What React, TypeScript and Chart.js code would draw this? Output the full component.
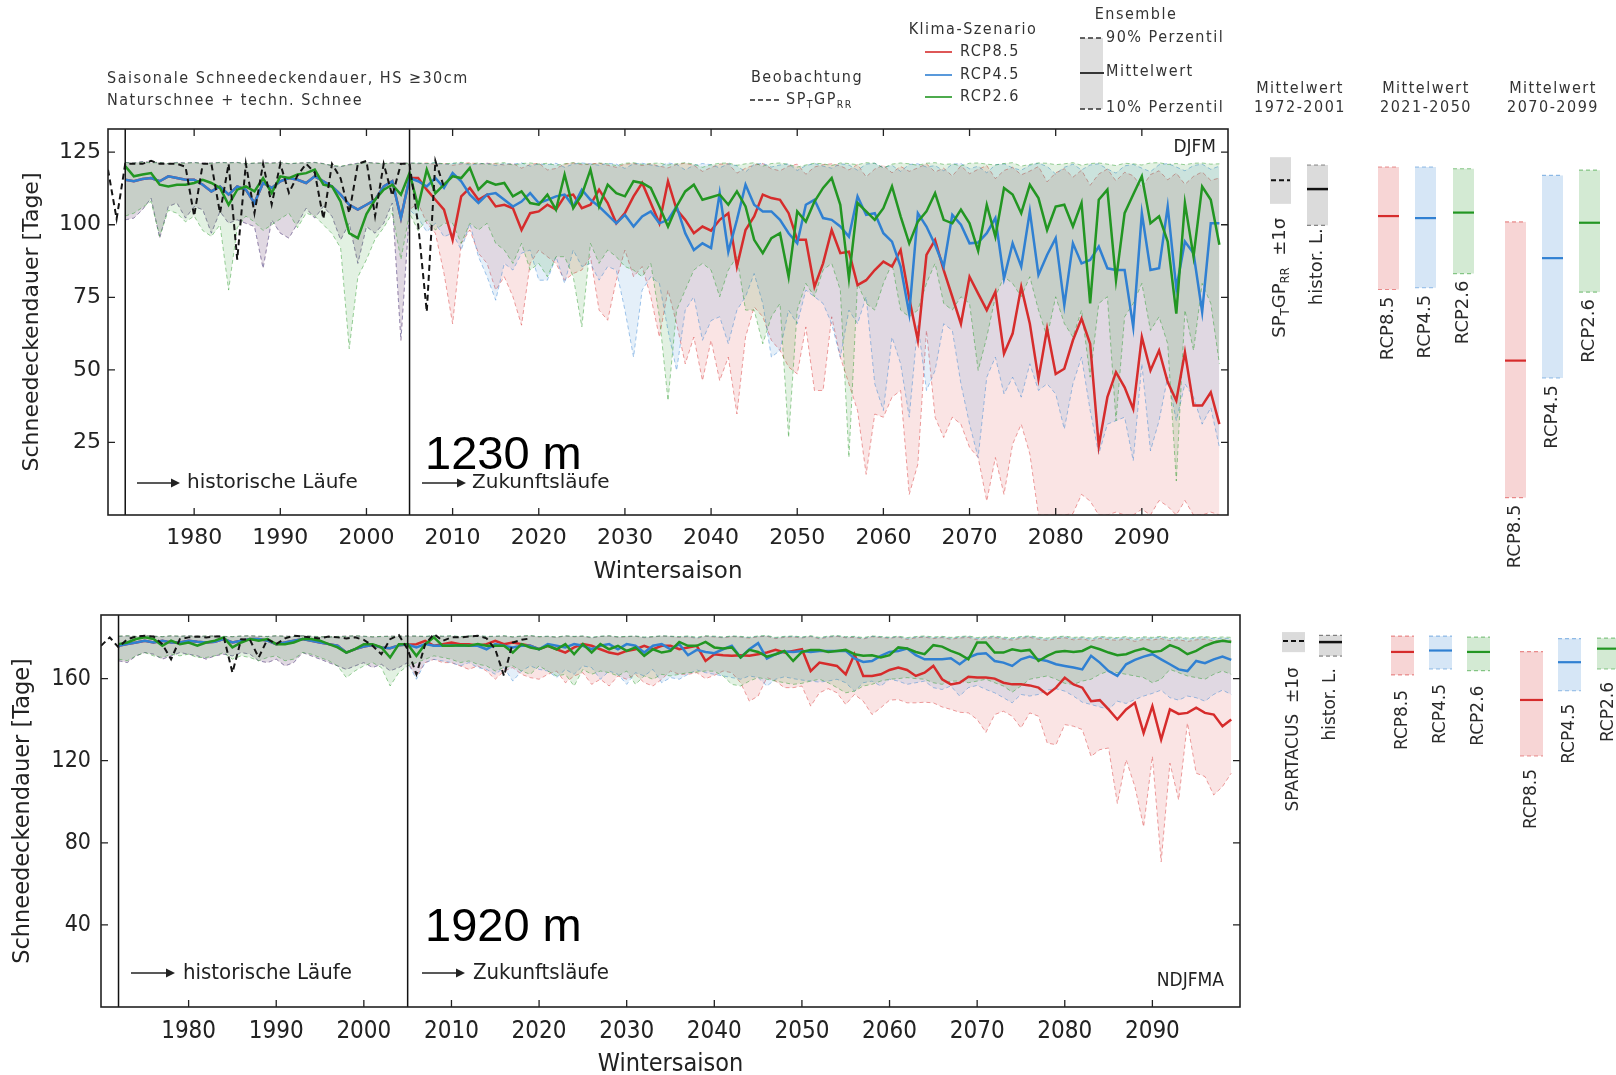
import React, { useEffect, useRef } from "react";
import { Chart, registerables } from "chart.js";

Chart.register(...registerables);

const PAGE_W = 1616;
const SANS = '"DejaVu Sans", "Liberation Sans", sans-serif';
const COND = '"DejaVu Sans Condensed", "Liberation Sans Narrow", "DejaVu Sans", sans-serif';
const ARIAL = '"Liberation Sans", Arial, sans-serif';

const OBS_START = 1970;
const HIST_START = 1972; // historical runs 1972-2005
const FUT_START = 2006; // scenario runs 2006-2099
const X_MIN = 1970;
const X_MAX = 2100;
const SPLIT_YEARS = [1972, 2005];
const SCENARIOS = ["RCP8.5", "RCP4.5", "RCP2.6"];
const PERIODS = ["1972-2001", "2021-2050", "2070-2099"];

// ================= 1230 m, DJFM =================
const TOP_OBS = [119, 102, 121, 121, 121, 122, 121, 121, 121, 120, 103, 121, 121, 104, 121, 88, 121, 104, 121, 107, 121, 111, 117, 121, 118, 102, 121, 116, 104, 121, 122, 103, 121, 110, 121, 121, 100, 70, 122, 113];

// historical runs used by RCP8.5 / RCP4.5
const TOP_HIST_A_P10 = [101.7, 102.3, 105.2, 109.2, 95.4, 106.3, 107.5, 102.3, 106.3, 105.2, 97.1, 104.6, 100.5, 101.7, 100.5, 99.4, 85, 101.7, 97.1, 95.4, 100.5, 105.7, 102.3, 106.3, 102.9, 94.8, 100.5, 86.7, 99.4, 97.1, 100.5, 107.5, 60.2, 105.2];
const TOP_HIST_A_MEAN = [115.5, 115, 115.8, 116.1, 115, 116.7, 116.1, 115.5, 115.5, 113.8, 111.5, 113.2, 110.4, 113.2, 112.1, 107.5, 114.4, 112.7, 115, 116.1, 115.5, 114.4, 116.7, 115, 113.2, 110.4, 106.9, 105.2, 106.9, 108.6, 113.2, 115, 102.3, 116.1];
const TOP_HIST_A_P90 = [121.5, 121.3, 121.8, 121.5, 121.5, 121, 121.5, 121.3, 121.5, 121.2, 121.3, 121.5, 121.4, 121.5, 121, 121.2, 121.4, 121.3, 121.5, 121, 121.2, 121.4, 121.5, 121.1, 120.3, 120, 120.8, 121.2, 121.5, 121.3, 121, 121.4, 121.2, 121.3];
// historical runs used by RCP2.6
const TOP_HIST_B_P10 = [103, 104, 106, 108, 96, 105, 104, 101, 103, 98, 96, 100, 77.5, 99, 103, 101, 98, 100, 102, 104, 99, 104, 103, 100, 97, 92, 57.3, 82, 88, 95, 99, 104, 88, 104];
const TOP_HIST_B_MEAN = [120.2, 116.7, 117.3, 117.8, 113.8, 113.2, 113.8, 113.8, 114.4, 115.5, 114.4, 112.7, 106.9, 112.1, 113.2, 111.5, 116.1, 110.9, 116.7, 116.1, 117.3, 117.8, 119, 113.8, 113.2, 108, 97.1, 95.4, 103.7, 108.6, 112.1, 113.8, 110.4, 117.8];
const TOP_HIST_B_P90 = [121.4, 121.2, 121.6, 121.3, 121.4, 121.1, 121.3, 121.2, 121.4, 121.1, 121.2, 121.4, 121.3, 121.4, 121.1, 121.3, 121.2, 121.2, 121.4, 121.1, 121.3, 121.3, 121.4, 121, 120.5, 120.2, 120.6, 121, 121.4, 121.2, 121.1, 121.3, 121.1, 121.2];

const TOP_RCP85_P10 = [107.5, 100.5, 97.1, 83.2, 65.9, 93.6, 98.2, 90.2, 86.7, 77.5, 82.1, 75.2, 65.4, 86.7, 91.3, 89, 86.7, 80.9, 83.2, 84.4, 89, 70.6, 67.1, 80.9, 91.3, 82.1, 85.6, 75.2, 61.3, 77.5, 65.9, 52.1, 61.3, 46.3, 60.2, 46.3, 54.4, 34.8, 61.3, 71.7, 68.3, 60.2, 56.7, 51, 48.6, 64.8, 42.9, 42.9, 68.3, 54.4, 45.2, 36, 14, 34.8, 33.7, 40.6, 42.9, 7.1, 17.5, 63.6, 33.7, 26.7, 33.7, 31.3, 23.3, 19.8, 4.8, 19.8, 7.1, 24.4, 31.3, 21, 0, 0, 0, 0, 0.5, 7.1, 4.8, 0, 0, 1, 0, 0, 2, 0, 5, 3, 0, 5, 0, 0, 1, 0];
const TOP_RCP85_MEAN = [116.1, 112.1, 108.6, 105.2, 94.8, 109.8, 112.7, 108.6, 110.4, 106.3, 106.9, 105.7, 98.2, 104, 104.6, 106.9, 105.2, 109.8, 110.4, 105.7, 106.9, 112.1, 107.5, 100.5, 104, 109.8, 114.4, 107.5, 100.5, 115, 105.2, 101.7, 97.1, 99.4, 98, 101.7, 104, 85.6, 98.2, 102.9, 110.4, 109.2, 108.6, 104, 94.8, 94.8, 78.6, 86.7, 98.2, 90.2, 90.7, 79.2, 80.9, 84.4, 87.3, 85.6, 91.3, 74.6, 60.2, 89.6, 94.8, 84.4, 75.2, 65.9, 82.1, 76.3, 70.6, 76.9, 55.6, 62.5, 78.6, 65.9, 46.9, 64.2, 48.6, 50.4, 60.2, 67.7, 59, 23.8, 40.6, 49.2, 44, 36.5, 61.3, 49.8, 56.7, 45.8, 39.4, 56.1, 37.7, 37.7, 42.3, 31.3];
const TOP_RCP85_P90 = [121, 121.3, 120.8, 121.2, 120.5, 121, 121.4, 120.9, 121.2, 121, 120.6, 121.1, 119.5, 120.8, 121.2, 118.9, 119.4, 120.9, 121.3, 120.7, 121, 121.2, 120.5, 119.8, 120.9, 121.1, 120.4, 121, 120.2, 119.6, 120.8, 121.2, 120.5, 118.4, 119.7, 120.9, 121, 117.8, 119.5, 120.6, 121.1, 119.3, 118.6, 120.2, 120.9, 117.4, 119.9, 120.7, 121, 120.3, 118.9, 120.8, 116.5, 119.2, 120.5, 117.9, 120.1, 118.4, 119.6, 121, 118.2, 119.5, 116.8, 120.3, 117.6, 119.1, 120.4, 115.9, 118.7, 119.8, 117.2, 118.5, 120.1, 114.8, 117.9, 119.3, 116.4, 118.8, 113.6, 117.5, 119.2, 115.1, 118.1, 116.9, 112.8, 117.3, 118.6, 115.5, 117.8, 113.9, 116.7, 118.2, 115.3, 116.1];

const TOP_RCP45_P10 = [102.3, 97.6, 100.5, 95.9, 97.1, 91.3, 100.5, 89, 82.1, 74, 86.7, 84.4, 90.2, 91.3, 80.9, 80.9, 89, 79.8, 91.3, 85.6, 86.7, 80.9, 85.6, 84.4, 70.6, 54.4, 77.5, 82.1, 79.8, 63.6, 49.8, 70.6, 75.2, 60.2, 67, 68.3, 59, 70.6, 75.2, 83.2, 72.9, 54.4, 56.7, 70.6, 65.9, 77.5, 75.2, 72.9, 65.9, 54.4, 70.6, 65.9, 75.2, 45.2, 36, 61.3, 52.1, 33.7, 65.9, 42.9, 49.8, 65.9, 63.6, 45.2, 31.3, 19.8, 47.5, 54.4, 41.7, 47.5, 40.6, 52.1, 42.9, 45.2, 41.7, 29.6, 45.2, 54.4, 36, 21, 31.3, 32.5, 33.7, 18.7, 52.1, 22.1, 32.5, 47.5, 32.5, 45.2, 40.6, 31.3, 37, 23.3];
const TOP_RCP45_MEAN = [115, 113.2, 116.1, 112.7, 117.8, 115, 110.4, 107.5, 110.4, 110.9, 108.6, 106.3, 108, 110.9, 107.5, 108.6, 109.8, 110.4, 106.3, 112.1, 108.6, 106.3, 103.4, 100.5, 103.4, 99.4, 102.9, 104.6, 100.5, 101.7, 106.3, 97.1, 91.3, 93.6, 92, 110.9, 90.7, 101.7, 113.8, 106.9, 104.6, 104.6, 101.7, 97.1, 93.6, 106.9, 108.6, 102.3, 101.7, 99.4, 95.9, 109.8, 103.4, 104, 97.1, 94.2, 85.6, 69.4, 104, 99.4, 93.1, 85.6, 103.4, 100, 93.6, 93.9, 97.1, 102.3, 81.5, 93.6, 85.6, 104.6, 82.7, 89.6, 95.4, 72.3, 93.6, 86.7, 87.9, 92.5, 85, 84.4, 84.4, 64.8, 104, 84.4, 85, 106.3, 78.1, 94.2, 90.2, 70, 100.5, 100.5];
const TOP_RCP45_P90 = [121.2, 121, 121.4, 120.8, 121.1, 121.3, 120.6, 121, 121.2, 120.4, 121.1, 120.9, 121.3, 120.2, 121, 120.7, 121.2, 119.8, 120.9, 121.3, 121, 120.5, 121.2, 120.9, 119.4, 121, 121.2, 120.6, 120.1, 121.3, 120.8, 118.9, 120.5, 121.1, 120.7, 119.6, 121, 120.3, 118.2, 120.8, 121.2, 119.9, 120.6, 121, 118.7, 120.4, 121.1, 120.2, 119.5, 121, 120.6, 118.8, 120.9, 121.2, 119.7, 120.5, 118.4, 120.8, 121, 119.9, 120.4, 118.6, 120.9, 121.1, 119.3, 120.2, 117.9, 120.7, 121, 119.6, 118.8, 120.5, 121.2, 120.1, 117.5, 119.8, 120.9, 118.9, 120.6, 121, 119.2, 117.8, 120.3, 120.8, 119.5, 118.3, 120.7, 121.1, 119.9, 118.6, 120.4, 120.9, 119.1, 120.2];

const TOP_RCP26_P10 = [98, 101.7, 98.2, 100.5, 100.5, 93.6, 100.5, 98.2, 100.5, 93.6, 91.3, 86.7, 93.6, 84.4, 86.7, 82.1, 89, 89, 82.1, 64.8, 93.6, 86.7, 91.3, 89, 85.6, 84.4, 82.1, 86.7, 68.3, 39.4, 70.6, 77.5, 84.4, 86.7, 84.4, 75.2, 84.4, 89, 70.6, 70.6, 59, 68.3, 72.9, 26.7, 70.6, 79.8, 75.2, 84.4, 86.7, 77.5, 19.8, 79.8, 72.9, 70.6, 79.8, 86.7, 70.6, 68.3, 70.6, 79.8, 86.7, 72.9, 70.6, 75.2, 72.9, 49.8, 61.3, 75.2, 82.1, 79.8, 75.2, 82.1, 70.6, 61.3, 75.2, 66, 61.3, 70.6, 47.5, 72.9, 75.2, 32.5, 68.3, 72.9, 79.8, 63.6, 68.3, 59, 11.7, 70.6, 56.7, 79.8, 72.9, 52.1];
const TOP_RCP26_MEAN = [106.3, 119, 110.9, 113.8, 116.7, 116.1, 119.6, 112.1, 115, 113.8, 114.4, 109.8, 111.5, 107.5, 106.9, 110.4, 105.2, 117.3, 105.7, 110.4, 119, 106.3, 113.8, 110.9, 109.8, 115, 114.4, 112.7, 106.3, 99.4, 106.3, 111.5, 113.8, 108.6, 109.5, 110.4, 106.9, 111.5, 106.3, 94.8, 90.2, 95.4, 97.1, 82.1, 104.6, 101.1, 108, 112.7, 116.1, 106.9, 81.5, 107.5, 104.6, 101.7, 105.7, 113.2, 102.9, 93.6, 101.1, 104.6, 110.9, 101.7, 100.5, 105.2, 100.5, 91, 106.9, 95.9, 112.7, 110.4, 104, 113.8, 109.2, 98.2, 106.3, 106.9, 99.4, 107.5, 72.9, 108.6, 112.1, 80.9, 104, 110.4, 116.7, 100.5, 102.9, 94.2, 69.4, 107.5, 89, 113.2, 108.6, 93.1];
const TOP_RCP26_P90 = [121.3, 121.1, 121.4, 121, 121.2, 121.5, 121, 121.3, 120.8, 121.2, 121.4, 120.6, 121.1, 121.3, 120.9, 121.2, 120.5, 121, 121.4, 121.1, 120.7, 121.3, 121, 120.4, 121.2, 121.4, 120.8, 121.1, 121.3, 120.6, 121, 121.4, 120.9, 119.8, 120.7, 121.2, 121.3, 120.5, 121, 121.4, 120.2, 121.1, 121.3, 120.8, 119.9, 120.6, 121.2, 121, 120.4, 121.3, 121.1, 120.7, 121.4, 121.2, 119.6, 120.9, 121.3, 121, 120.5, 121.2, 121.4, 120.8, 121, 120.3, 121.2, 121.3, 120.9, 120.6, 121.1, 121.4, 120.2, 120.8, 121.3, 121.2, 120.7, 121, 121.4, 120.5, 121.1, 121.3, 120.9, 120.4, 121.2, 121, 120.6, 121.3, 121.4, 120.8, 121.1, 120.7, 121.2, 121.3, 120.9, 121];

// side panel: [low, mean, high]
const TOP_SIDE_OBS = [107.2, 115.3, 123.3]; // SP_T GP_RR ±1σ
const TOP_SIDE_HIST = [99.8, 112.3, 120.6]; // historical runs (10%, mean, 90%)
const TOP_SIDE_2021_2050 = [[77.7, 103.0, 119.9], [78.3, 102.3, 119.9], [83.2, 104.2, 119.3]];
const TOP_SIDE_2070_2099 = [[6.0, 53.2, 101.0], [47.2, 88.5, 117.0], [76.8, 100.7, 118.8]];

// ================= 1920 m, NDJFMA =================
const BOT_OBS = [176, 180.1, 175.2, 179.2, 180.5, 180.9, 180.5, 176.8, 169.4, 179.2, 180.1, 180.5, 180.1, 180.5, 180.5, 162.9, 179.2, 178.9, 170.3, 179.2, 176.8, 179.6, 180.9, 180.5, 180.1, 179.6, 180.5, 180.1, 179.6, 180.1, 178.9, 176, 171.9, 179.2, 181.2, 174.3, 162.1, 176.8, 181.7, 178.4, 180.1, 180.1, 180.5, 180.9, 179.6, 174.3, 161.3, 177.6, 178.9, 179.6];

const BOT_HIST_A_P10 = [168.7, 167.8, 171.1, 172.7, 171.9, 169.5, 171.1, 172.7, 171.9, 171.1, 169.5, 171.1, 171.9, 171.1, 172.7, 171.9, 168.7, 167.8, 169.5, 166.2, 167.8, 172.7, 171.1, 169.5, 167.8, 166.2, 164.5, 166.2, 167.8, 165.4, 167.0, 163.8, 165.4, 167.8];
const BOT_HIST_A_MEAN = [176.0, 176.8, 177.6, 178.5, 177.6, 178.5, 177.6, 177.6, 178.5, 178.0, 177.6, 178.0, 179.3, 177.6, 178.5, 179.3, 179.3, 178.5, 176.8, 177.6, 178.5, 179.3, 178.5, 177.6, 176.8, 176.0, 172.7, 174.4, 175.6, 176.4, 175.2, 174.8, 176.2, 176.6];
const BOT_HIST_A_P90 = [180.6, 180.8, 180.5, 180.9, 180.7, 180.4, 180.8, 180.6, 180.9, 180.5, 180.7, 180.8, 180.6, 180.4, 180.7, 180.9, 180.6, 180.5, 180.8, 180.7, 180.5, 180.9, 180.6, 180.4, 180.2, 180.5, 180.7, 180.8, 180.6, 180.3, 180.5, 180.7, 180.6, 180.8];
const BOT_HIST_B_P10 = [169.5, 168.7, 171.1, 172.7, 171.1, 170.3, 171.9, 171.1, 171.9, 170.3, 170.3, 171.1, 172.7, 169.5, 171.1, 170.3, 168.7, 170.3, 171.1, 168.7, 169.5, 172.7, 171.9, 170.3, 168.7, 166.2, 160.5, 163.8, 166.2, 167.8, 165.4, 156.4, 163.0, 166.2];
const BOT_HIST_B_MEAN = [176.8, 177.6, 179.3, 180.1, 179.3, 176.0, 178.5, 176.8, 177.6, 176.0, 177.6, 178.5, 180.1, 175.2, 177.6, 179.3, 178.5, 179.3, 176.8, 176.8, 177.6, 179.3, 179.3, 178.5, 176.8, 175.2, 172.7, 174.4, 176.8, 176.8, 175.2, 170.3, 176.8, 176.8];
const BOT_HIST_B_P90 = [180.7, 180.9, 180.6, 180.8, 180.6, 180.5, 180.9, 180.7, 180.8, 180.6, 180.8, 180.7, 180.5, 180.5, 180.8, 180.8, 180.7, 180.6, 180.9, 180.6, 180.6, 180.8, 180.7, 180.5, 180.3, 180.6, 180.6, 180.9, 180.7, 180.4, 180.6, 180.6, 180.7, 180.7];

const BOT_RCP85_P10 = [161.3, 167.8, 169.4, 167.8, 167.8, 166.2, 164.5, 166.2, 163.7, 159.7, 163.7, 165.4, 162.1, 160.5, 159.7, 162.1, 163.7, 158.0, 161.3, 162.9, 157.2, 159.7, 156.4, 161.3, 159.7, 162.1, 158.0, 156.4, 159.7, 163.7, 162.1, 162.1, 162.9, 160.0, 161.6, 163.7, 162.9, 158.0, 149.0, 151.5, 160.5, 158.8, 155.6, 155.6, 156.4, 146.6, 153.1, 155.1, 153.1, 147.4, 152.3, 149.0, 142.5, 145.8, 149.5, 149.8, 148.2, 148.2, 148.5, 148.2, 146.2, 145.0, 143.6, 143.3, 140.1, 133.8, 142.5, 144.1, 141.7, 136.0, 143.3, 141.7, 128.6, 127.8, 137.6, 136.8, 135.2, 122.1, 125.4, 126.2, 99.2, 120.5, 107.4, 87.8, 122.1, 70.7, 118.8, 100.9, 138.4, 113.9, 112.3, 103.3, 107.4, 113.9];
const BOT_RCP85_MEAN = [176.8, 178.4, 176.0, 176.8, 177.6, 176.8, 176.8, 176.0, 176.8, 178.4, 176.8, 177.6, 176.8, 176.0, 174.3, 176.0, 174.3, 172.7, 175.2, 176.8, 176.0, 174.3, 172.7, 171.9, 173.5, 174.3, 176.0, 174.3, 176.0, 176.0, 174.3, 175.2, 176.0, 168.6, 171.9, 171.4, 171.1, 171.4, 171.1, 171.9, 172.7, 174.0, 172.7, 173.5, 174.3, 163.7, 167.8, 167.0, 166.2, 162.1, 171.9, 161.3, 161.3, 162.1, 164.2, 165.4, 164.2, 161.3, 162.9, 166.2, 159.7, 157.2, 158.0, 160.9, 160.5, 160.5, 160.0, 158.0, 157.2, 157.2, 156.7, 155.6, 152.3, 155.6, 160.5, 157.2, 155.6, 149.0, 149.5, 145.0, 140.1, 145.0, 148.2, 133.5, 146.6, 130.3, 145.0, 142.8, 143.3, 145.8, 143.3, 142.5, 136.8, 140.1];
const BOT_RCP85_P90 = [180.6, 180.4, 180.8, 180.5, 180.7, 180.3, 180.6, 180.8, 180.4, 180.5, 180.7, 180.2, 180.6, 180.8, 180.3, 180.5, 180.1, 180.7, 180.4, 180.6, 179.8, 180.5, 180.7, 180.2, 180.4, 180.6, 179.9, 180.3, 180.7, 180.5, 180.1, 180.4, 179.6, 180.6, 180.3, 179.9, 180.5, 180.2, 179.7, 180.4, 180.6, 179.5, 180.1, 180.3, 179.8, 180.5, 179.4, 180.2, 180.6, 179.9, 180.1, 179.3, 180.4, 180, 179.6, 180.3, 179.1, 179.9, 180.2, 179.5, 180, 179.2, 179.8, 180.1, 178.9, 179.6, 180, 179.3, 178.8, 179.7, 180.1, 179.2, 178.6, 179.5, 179.9, 178.9, 179.4, 178.4, 179.6, 179, 178.7, 179.3, 178.2, 179.1, 178.8, 179.5, 178.5, 179, 178.1, 178.9, 179.3, 178.4, 178.9, 178.6];

const BOT_RCP45_P10 = [159.7, 167.8, 169.4, 168.6, 167.8, 166.2, 167.8, 165.4, 164.5, 162.1, 165.4, 158.8, 163.7, 166.2, 164.5, 163.7, 160.5, 164.5, 162.1, 166.2, 165.4, 159.7, 163.7, 162.1, 157.2, 162.9, 161.3, 164.5, 158.0, 160.5, 159.7, 162.1, 164.2, 162.9, 162.1, 161.3, 160.5, 159.7, 161.3, 160.5, 156.4, 159.7, 160.9, 160.0, 159.3, 158.8, 158.3, 158.8, 159.7, 158.0, 153.9, 158.0, 158.8, 156.4, 159.7, 158.8, 157.2, 158.0, 158.8, 155.6, 154.7, 156.4, 151.5, 155.6, 156.7, 154.7, 153.1, 150.7, 148.2, 152.3, 151.5, 152.3, 154.4, 155.1, 153.9, 151.5, 148.5, 147.4, 146.2, 145.0, 149.0, 147.9, 149.8, 151.5, 152.8, 154.4, 150.7, 149.5, 151.5, 150.7, 149.0, 152.3, 154.4, 152.3];
const BOT_RCP45_MEAN = [175.2, 176.8, 176.0, 176.0, 176.3, 176.0, 176.0, 176.0, 174.3, 176.8, 176.0, 175.2, 176.0, 176.0, 174.3, 176.8, 176.0, 175.2, 176.8, 176.0, 174.3, 176.0, 176.8, 174.3, 176.8, 176.0, 172.7, 176.0, 176.8, 174.3, 176.8, 171.4, 174.0, 173.0, 172.4, 174.3, 176.0, 170.3, 174.3, 177.3, 169.8, 171.9, 173.2, 173.0, 173.4, 173.0, 173.4, 173.5, 173.5, 173.5, 169.8, 168.1, 168.6, 171.1, 173.0, 173.5, 174.7, 171.4, 169.4, 169.4, 169.4, 169.9, 167.0, 170.3, 172.0, 172.4, 168.6, 167.8, 166.2, 169.4, 170.7, 169.4, 168.6, 167.0, 166.2, 165.4, 164.5, 171.1, 167.8, 163.7, 161.3, 167.0, 169.1, 170.7, 171.9, 169.4, 167.0, 164.5, 163.7, 168.6, 167.5, 169.4, 170.7, 169.1];
const BOT_RCP45_P90 = [180.7, 180.5, 180.9, 180.6, 180.8, 180.4, 180.7, 180.9, 180.5, 180.6, 180.8, 180.3, 180.7, 180.9, 180.4, 180.6, 180.2, 180.8, 180.5, 180.7, 180, 180.6, 180.8, 180.3, 180.5, 180.7, 180.1, 180.4, 180.8, 180.6, 180.3, 180.6, 179.9, 180.7, 180.5, 180.1, 180.7, 180.4, 180, 180.6, 180.8, 179.8, 180.4, 180.6, 180.1, 180.7, 179.7, 180.5, 180.8, 180.2, 180.4, 179.6, 180.6, 180.3, 179.9, 180.5, 179.6, 180.2, 180.5, 179.9, 180.3, 179.7, 180.2, 180.5, 179.5, 180.1, 180.4, 179.8, 179.4, 180.2, 180.5, 179.8, 179.3, 180, 180.4, 179.6, 180, 179.2, 180.2, 179.7, 179.5, 180, 179.1, 179.9, 179.6, 180.2, 179.4, 179.8, 179.2, 179.7, 180, 179.4, 179.7, 179.5];

const BOT_RCP26_P10 = [167.8, 169.4, 171.1, 170.3, 169.4, 167.8, 168.6, 167.0, 166.2, 163.7, 165.4, 166.2, 163.7, 162.1, 166.2, 163.7, 161.3, 162.1, 156.4, 164.5, 162.1, 163.7, 162.9, 161.3, 163.7, 157.2, 161.3, 159.7, 162.1, 161.3, 162.1, 162.9, 163.2, 163.7, 163.6, 161.3, 157.2, 156.4, 158.8, 160.5, 159.7, 158.8, 158.0, 157.2, 157.7, 158.8, 159.7, 158.0, 155.6, 153.1, 153.9, 156.4, 157.2, 158.8, 159.7, 160.0, 160.5, 160.0, 159.7, 158.0, 157.2, 158.8, 158.8, 158.0, 158.8, 159.7, 158.0, 156.4, 153.4, 156.4, 159.7, 160.5, 161.3, 159.7, 157.7, 157.2, 158.8, 159.7, 162.1, 163.7, 162.9, 162.1, 161.3, 160.5, 158.0, 159.7, 164.5, 162.9, 161.3, 160.5, 159.7, 162.1, 163.7, 162.1];
const BOT_RCP26_MEAN = [171.1, 176.8, 180.1, 176.0, 176.0, 176.3, 176.0, 176.8, 176.0, 176.0, 176.0, 172.7, 176.8, 175.2, 174.3, 176.0, 174.3, 176.8, 171.9, 176.8, 172.7, 176.8, 174.3, 176.0, 173.5, 175.2, 171.1, 174.3, 172.7, 173.5, 177.9, 176.0, 176.0, 177.9, 175.2, 174.7, 175.2, 170.3, 174.0, 173.0, 170.7, 171.9, 173.5, 168.6, 173.0, 174.0, 174.0, 173.0, 173.5, 174.0, 171.9, 171.1, 171.4, 170.3, 171.4, 175.2, 174.7, 173.0, 171.9, 176.3, 175.6, 173.5, 171.9, 169.4, 177.6, 177.6, 172.7, 172.7, 174.3, 173.5, 174.0, 168.6, 171.1, 173.0, 173.5, 173.0, 173.5, 175.6, 174.3, 172.7, 171.4, 171.9, 173.5, 174.7, 173.0, 173.5, 176.3, 174.7, 171.9, 173.5, 176.0, 177.6, 178.4, 177.9];
const BOT_RCP26_P90 = [180.8, 180.6, 181, 180.7, 180.9, 180.5, 180.8, 181, 180.6, 180.7, 180.9, 180.4, 180.8, 181, 180.5, 180.7, 180.3, 180.9, 180.6, 180.8, 180.2, 180.7, 180.9, 180.4, 180.6, 180.8, 180.3, 180.5, 180.9, 180.7, 180.5, 180.8, 180.2, 180.9, 180.7, 180.3, 180.8, 180.6, 180.2, 180.8, 181, 180.1, 180.6, 180.8, 180.3, 180.9, 180.1, 180.7, 181, 180.4, 180.6, 180, 180.8, 180.5, 180.2, 180.7, 180, 180.5, 180.8, 180.3, 180.6, 180.1, 180.5, 180.8, 180, 180.4, 180.7, 180.2, 179.9, 180.5, 180.8, 180.2, 179.8, 180.4, 180.7, 180.1, 180.4, 179.8, 180.6, 180.2, 180, 180.5, 179.7, 180.4, 180.1, 180.6, 179.9, 180.3, 179.8, 180.2, 180.5, 180, 180.3, 180.1];

const BOT_SIDE_OBS = [172.9, 178.3, 182.7]; // SPARTACUS ±1σ
const BOT_SIDE_HIST = [171.0, 177.8, 181.1];
const BOT_SIDE_2021_2050 = [[161.8, 173.0, 180.7], [164.7, 173.7, 180.7], [163.9, 173.0, 180.2]];
const BOT_SIDE_2070_2099 = [[122.3, 149.6, 173.2], [154.1, 168.0, 179.5], [164.7, 174.6, 179.7]];

// ================= styling =================
const RED = [214, 44, 44];
const BLUE = [48, 128, 210];
const GREEN = [34, 150, 34];
const SC_COLORS = [RED, BLUE, GREEN];
const BAND_ALPHA = 0.13;
const rgba = (c: number[], a: number) => `rgba(${c[0]},${c[1]},${c[2]},${a})`;

const pts = (start: number, vals: number[]) => vals.map((v, i) => ({ x: start + i, y: v }));
const joined = (hist: number[], fut: number[]) => [...pts(HIST_START, hist), ...pts(FUT_START, fut)];

const TOP_PANEL = {
  canvasH: 590,
  obs: TOP_OBS,
  histA: { p10: TOP_HIST_A_P10, mean: TOP_HIST_A_MEAN, p90: TOP_HIST_A_P90 },
  histB: { p10: TOP_HIST_B_P10, mean: TOP_HIST_B_MEAN, p90: TOP_HIST_B_P90 },
  fut: [
    { p10: TOP_RCP85_P10, mean: TOP_RCP85_MEAN, p90: TOP_RCP85_P90 },
    { p10: TOP_RCP45_P10, mean: TOP_RCP45_MEAN, p90: TOP_RCP45_P90 },
    { p10: TOP_RCP26_P10, mean: TOP_RCP26_MEAN, p90: TOP_RCP26_P90 },
  ],
  yMax: 133,
  yStep: 25,
  padding: { left: 8, right: 388, top: 129, bottom: 4 },
  yWidth: 100,
  xHeight: 71,
  xTickFont: { family: SANS, size: 22 },
  yTickFont: { family: SANS, size: 22 },
  xTickPad: 2,
  yTickPad: -1,
  xTitleFont: { family: SANS, size: 23 },
  xTitlePad: { top: 0, bottom: 0 },
  yTitleFont: { family: SANS, size: 22 },
  yTitlePad: { top: 11, bottom: 0 },
  elev: "1230 m",
  elevY: 469,
  season: "DJFM",
  seasonX: 1216,
  seasonY: 148,
  seasonFont: `17px ${SANS}`,
  runY: 483,
  runFont: `20px ${SANS}`,
  runHist: [137, 180, 187],
  runFut: [422, 466, 472],
  side: {
    w: 21,
    font: 18,
    obs: { x: 1270, vals: TOP_SIDE_OBS, gap: 14, label: [{ t: "SP" }, { t: "T", sub: true }, { t: "GP" }, { t: "RR", sub: true }, { t: "  ±1σ" }] },
    hist: { x: 1307, vals: TOP_SIDE_HIST, gap: 3, label: [{ t: "histor. L." }] },
    groups: [
      { xs: [1378, 1415, 1453], vals: TOP_SIDE_2021_2050, gap: 7 },
      { xs: [1505, 1542, 1579], vals: TOP_SIDE_2070_2099, gap: 7 },
    ],
  },
  header: true,
};

const BOT_PANEL = {
  canvasH: 485,
  obs: BOT_OBS,
  histA: { p10: BOT_HIST_A_P10, mean: BOT_HIST_A_MEAN, p90: BOT_HIST_A_P90 },
  histB: { p10: BOT_HIST_B_P10, mean: BOT_HIST_B_MEAN, p90: BOT_HIST_B_P90 },
  fut: [
    { p10: BOT_RCP85_P10, mean: BOT_RCP85_MEAN, p90: BOT_RCP85_P90 },
    { p10: BOT_RCP45_P10, mean: BOT_RCP45_MEAN, p90: BOT_RCP45_P90 },
    { p10: BOT_RCP26_P10, mean: BOT_RCP26_MEAN, p90: BOT_RCP26_P90 },
  ],
  yMax: 191,
  yStep: 40,
  padding: { left: 6, right: 376, top: 25, bottom: 0 },
  yWidth: 95,
  xHeight: 68,
  xTickFont: { family: COND, size: 24 },
  yTickFont: { family: COND, size: 23 },
  xTickPad: 2,
  yTickPad: 2,
  xTitleFont: { family: COND, size: 25 },
  xTitlePad: { top: 0, bottom: -4 },
  yTitleFont: { family: SANS, size: 22.5 },
  yTitlePad: { top: 3.5, bottom: 0 },
  elev: "1920 m",
  elevY: 351,
  season: "NDJFMA",
  seasonX: 1224,
  seasonY: 391,
  seasonFont: `19px ${COND}`,
  runY: 383,
  runFont: `22px ${COND}`,
  runHist: [131, 175, 183],
  runFut: [422, 465, 473],
  side: {
    w: 23,
    font: 17,
    obs: { x: 1282, vals: BOT_SIDE_OBS, gap: 15, label: [{ t: "SPARTACUS  ±1σ" }] },
    hist: { x: 1319, vals: BOT_SIDE_HIST, gap: 12, label: [{ t: "histor. L." }] },
    groups: [
      { xs: [1391, 1429, 1467], vals: BOT_SIDE_2021_2050, gap: 15 },
      { xs: [1520, 1558, 1597], vals: BOT_SIDE_2070_2099, gap: 13 },
    ],
  },
  header: false,
};

// ================= drawing helpers =================
function setLS(ctx: any, v: string) {
  if ("letterSpacing" in ctx) ctx.letterSpacing = v;
}

function richWidth(ctx: any, parts: any[], size: number, family: string) {
  let w = 0;
  for (const p of parts) {
    ctx.font = `${p.sub ? size * 0.65 : size}px ${family}`;
    w += ctx.measureText(p.t).width;
  }
  return w;
}

function drawRich(ctx: any, parts: any[], x: number, y: number, size: number, family: string) {
  let cx = x;
  for (const p of parts) {
    ctx.font = `${p.sub ? size * 0.65 : size}px ${family}`;
    ctx.fillText(p.t, cx, p.sub ? y + size * 0.3 : y);
    cx += ctx.measureText(p.t).width;
  }
}

function rotatedLabel(ctx: any, parts: any[], cx: number, yTop: number, size: number) {
  ctx.save();
  ctx.translate(cx, yTop);
  ctx.rotate(-Math.PI / 2);
  ctx.textAlign = "left";
  ctx.textBaseline = "middle";
  ctx.fillStyle = "#2a2a2a";
  const w = richWidth(ctx, parts, size, SANS);
  drawRich(ctx, parts, -w, 0, size, SANS);
  ctx.restore();
}

function hLine(ctx: any, x1: number, x2: number, y: number, color: string, lw: number, dash: number[]) {
  ctx.save();
  ctx.strokeStyle = color;
  ctx.lineWidth = lw;
  ctx.setLineDash(dash);
  ctx.beginPath();
  ctx.moveTo(x1, y);
  ctx.lineTo(x2, y);
  ctx.stroke();
  ctx.restore();
}

function arrow(ctx: any, x1: number, x2: number, y: number) {
  ctx.save();
  ctx.strokeStyle = "#222";
  ctx.fillStyle = "#222";
  ctx.lineWidth = 1.5;
  ctx.beginPath();
  ctx.moveTo(x1, y);
  ctx.lineTo(x2 - 6, y);
  ctx.stroke();
  ctx.beginPath();
  ctx.moveTo(x2, y);
  ctx.lineTo(x2 - 9, y - 4.5);
  ctx.lineTo(x2 - 9, y + 4.5);
  ctx.closePath();
  ctx.fill();
  ctx.restore();
}

function drawBox(ctx: any, yScale: any, x: number, w: number, vals: number[], kind: string, color?: number[]) {
  const [lo, mean, hi] = vals;
  const yLo = yScale.getPixelForValue(lo);
  const yHi = yScale.getPixelForValue(hi);
  const yM = yScale.getPixelForValue(mean);
  ctx.save();
  if (kind === "obs") {
    ctx.fillStyle = "rgba(0,0,0,0.14)";
    ctx.fillRect(x, yHi, w, yLo - yHi);
    hLine(ctx, x + 1, x + w - 1, yM, "#111", 2, [5, 3]);
  } else if (kind === "hist") {
    ctx.fillStyle = "rgba(0,0,0,0.14)";
    ctx.fillRect(x, yHi, w, yLo - yHi);
    hLine(ctx, x, x + w, yHi, "rgba(0,0,0,0.45)", 1.2, [4, 3]);
    hLine(ctx, x, x + w, yLo, "rgba(0,0,0,0.45)", 1.2, [4, 3]);
    hLine(ctx, x, x + w, yM, "#111", 2.5, []);
  } else if (color) {
    ctx.fillStyle = rgba(color, 0.2);
    ctx.fillRect(x, yHi, w, yLo - yHi);
    hLine(ctx, x, x + w, yHi, rgba(color, 0.5), 1.2, [4, 3]);
    hLine(ctx, x, x + w, yLo, rgba(color, 0.5), 1.2, [4, 3]);
    hLine(ctx, x, x + w, yM, rgba(color, 1), 2.2, []);
  }
  ctx.restore();
  return yLo;
}

function drawHeader(ctx: any) {
  ctx.save();
  ctx.fillStyle = "#333";
  ctx.textBaseline = "middle";
  ctx.font = `16px ${COND}`;
  setLS(ctx, "1.5px");
  ctx.textAlign = "left";
  ctx.fillText("Saisonale Schneedeckendauer, HS ≥30cm", 107, 79);
  ctx.fillText("Naturschnee + techn. Schnee", 107, 101);

  ctx.textAlign = "center";
  ctx.fillText("Beobachtung", 807, 78);
  hLine(ctx, 750, 781, 100, "#222", 1.5, [5, 3]);
  ctx.textAlign = "left";
  drawRich(ctx, [{ t: "SP" }, { t: "T", sub: true }, { t: "GP" }, { t: "RR", sub: true }], 786, 100, 16, COND);

  ctx.font = `16px ${COND}`;
  ctx.textAlign = "center";
  ctx.fillText("Klima-Szenario", 973, 30);
  const ly = [52, 75, 97];
  SCENARIOS.forEach((s, i) => {
    hLine(ctx, 925, 952, ly[i], rgba(SC_COLORS[i], 1), 1.6, []);
    ctx.textAlign = "left";
    ctx.fillText(s, 960, ly[i]);
  });

  ctx.textAlign = "center";
  ctx.fillText("Ensemble", 1136, 15);
  ctx.fillStyle = "#dedede";
  ctx.fillRect(1080, 38, 23, 71);
  hLine(ctx, 1080, 1104, 38, "#333", 1.3, [5, 3]);
  hLine(ctx, 1080, 1104, 109, "#333", 1.3, [5, 3]);
  hLine(ctx, 1080, 1104, 73, "#222", 1.8, []);
  ctx.fillStyle = "#333";
  ctx.textAlign = "left";
  ctx.fillText("90% Perzentil", 1106, 38);
  ctx.fillText("Mittelwert", 1106, 72);
  ctx.fillText("10% Perzentil", 1106, 108);

  ctx.textAlign = "center";
  const cx = [1300, 1426, 1553];
  PERIODS.forEach((p, i) => {
    ctx.fillText("Mittelwert", cx[i], 89);
    ctx.fillText(p, cx[i], 108);
  });
  setLS(ctx, "0px");
  ctx.restore();
}

function makeDeco(p: any) {
  return {
    id: "deco",
    afterDatasetsDraw(chart: any) {
      const { ctx, chartArea: a } = chart;
      const xs = chart.scales.x;
      const ys = chart.scales.y;
      ctx.save();

      // period separators
      ctx.strokeStyle = "#111";
      ctx.lineWidth = 1.5;
      for (const yr of SPLIT_YEARS) {
        const px = xs.getPixelForValue(yr);
        ctx.beginPath();
        ctx.moveTo(px, a.top);
        ctx.lineTo(px, a.bottom);
        ctx.stroke();
      }

      // frame
      ctx.strokeStyle = "#222";
      ctx.lineWidth = 1.6;
      ctx.strokeRect(a.left, a.top, a.right - a.left, a.bottom - a.top);

      // inward ticks
      ctx.lineWidth = 1.3;
      for (const t of xs.ticks) {
        if (t.value <= X_MIN || t.value >= X_MAX) continue;
        const px = xs.getPixelForValue(t.value);
        ctx.beginPath();
        ctx.moveTo(px, a.top);
        ctx.lineTo(px, a.top + 7);
        ctx.moveTo(px, a.bottom);
        ctx.lineTo(px, a.bottom - 7);
        ctx.stroke();
      }
      for (const t of ys.ticks) {
        if (t.value <= 0 || t.value >= p.yMax) continue;
        const py = ys.getPixelForValue(t.value);
        ctx.beginPath();
        ctx.moveTo(a.left, py);
        ctx.lineTo(a.left + 7, py);
        ctx.moveTo(a.right, py);
        ctx.lineTo(a.right - 7, py);
        ctx.stroke();
      }

      // in-plot texts
      ctx.fillStyle = "#000";
      ctx.textAlign = "left";
      ctx.textBaseline = "alphabetic";
      ctx.font = `47px ${ARIAL}`;
      ctx.fillText(p.elev, 425, p.elevY);

      ctx.fillStyle = "#222";
      ctx.textBaseline = "middle";
      ctx.font = p.runFont;
      arrow(ctx, p.runHist[0], p.runHist[1], p.runY);
      ctx.fillText("historische Läufe", p.runHist[2], p.runY);
      arrow(ctx, p.runFut[0], p.runFut[1], p.runY);
      ctx.fillText("Zukunftsläufe", p.runFut[2], p.runY);

      ctx.textAlign = "right";
      ctx.font = p.seasonFont;
      ctx.fillText(p.season, p.seasonX, p.seasonY);

      // side panel with period means
      const s = p.side;
      const obsLo = drawBox(ctx, ys, s.obs.x, s.w, s.obs.vals, "obs");
      rotatedLabel(ctx, s.obs.label, s.obs.x + s.w / 2, obsLo + s.obs.gap, s.font);
      const histLo = drawBox(ctx, ys, s.hist.x, s.w, s.hist.vals, "hist");
      rotatedLabel(ctx, s.hist.label, s.hist.x + s.w / 2, histLo + s.hist.gap, s.font);
      for (const g of s.groups) {
        g.vals.forEach((v: number[], i: number) => {
          const lo = drawBox(ctx, ys, g.xs[i], s.w, v, "sc", SC_COLORS[i]);
          rotatedLabel(ctx, [{ t: SCENARIOS[i] }], g.xs[i] + s.w / 2, lo + g.gap, s.font);
        });
      }

      if (p.header) drawHeader(ctx);
      ctx.restore();
    },
  };
}

function buildConfig(p: any) {
  const datasets: any[] = [];
  const hists = [p.histA, p.histA, p.histB];
  SCENARIOS.forEach((name, i) => {
    const col = SC_COLORS[i];
    const base = 30 - i * 10;
    const edge = { borderColor: rgba(col, 0.45), borderWidth: 1, borderDash: [4, 3], pointRadius: 0, tension: 0 };
    datasets.push({ label: `${name} 90%`, data: joined(hists[i].p90, p.fut[i].p90), ...edge, fill: "+1", backgroundColor: rgba(col, BAND_ALPHA), order: base + 1 });
    datasets.push({ label: `${name} 10%`, data: joined(hists[i].p10, p.fut[i].p10), ...edge, fill: false, order: base });
  });
  SCENARIOS.forEach((name, i) => {
    datasets.push({
      label: name,
      data: joined(hists[i].mean, p.fut[i].mean),
      borderColor: rgba(SC_COLORS[i], 1),
      borderWidth: 2.5,
      pointRadius: 0,
      fill: false,
      tension: 0,
      order: 3 - i,
    });
  });
  datasets.push({
    label: "Beobachtung",
    data: pts(OBS_START, p.obs),
    borderColor: "#151515",
    borderWidth: 2,
    borderDash: [6, 4],
    pointRadius: 0,
    fill: false,
    tension: 0,
    order: 0,
  });

  return {
    type: "line",
    data: { datasets },
    options: {
      animation: false,
      responsive: false,
      devicePixelRatio: 1,
      layout: { padding: p.padding },
      plugins: { legend: { display: false }, tooltip: { enabled: false }, filler: { propagate: false } },
      scales: {
        x: {
          type: "linear",
          min: X_MIN,
          max: X_MAX,
          grid: { display: false },
          border: { display: false },
          ticks: {
            stepSize: 10,
            includeBounds: false,
            autoSkip: false,
            maxRotation: 0,
            padding: p.xTickPad,
            color: "#222",
            font: p.xTickFont,
            callback: (v: any) => (v > X_MIN && v < X_MAX ? String(v) : ""),
          },
          title: { display: true, text: "Wintersaison", color: "#222", font: p.xTitleFont, padding: p.xTitlePad },
          afterFit: (sc: any) => {
            sc.height = p.xHeight;
          },
        },
        y: {
          type: "linear",
          min: 0,
          max: p.yMax,
          grid: { display: false },
          border: { display: false },
          ticks: {
            stepSize: p.yStep,
            includeBounds: false,
            padding: p.yTickPad,
            color: "#222",
            font: p.yTickFont,
            callback: (v: any) => (v === 0 ? "" : String(v)),
          },
          title: { display: true, text: "Schneedeckendauer [Tage]", color: "#222", font: p.yTitleFont, padding: p.yTitlePad },
          afterFit: (sc: any) => {
            sc.width = p.yWidth;
          },
        },
      },
    },
    plugins: [makeDeco(p)],
  };
}

function Panel({ cfg, top }: { cfg: any; top: number }) {
  const ref = useRef<HTMLCanvasElement>(null);
  useEffect(() => {
    if (!ref.current) return;
    const chart = new Chart(ref.current, buildConfig(cfg) as any);
    return () => chart.destroy();
  }, [cfg]);
  return (
    <canvas
      ref={ref}
      width={PAGE_W}
      height={cfg.canvasH}
      style={{ position: "absolute", left: 0, top, width: PAGE_W, height: cfg.canvasH, display: "block" }}
    />
  );
}

export default function App() {
  useEffect(() => {
    document.body.style.overflow = "hidden";
  }, []);
  return (
    <div style={{ position: "absolute", left: 0, top: 0, width: PAGE_W, height: 1075, background: "#fff", overflow: "hidden" }}>
      <Panel cfg={TOP_PANEL} top={0} />
      <Panel cfg={BOT_PANEL} top={590} />
    </div>
  );
}
